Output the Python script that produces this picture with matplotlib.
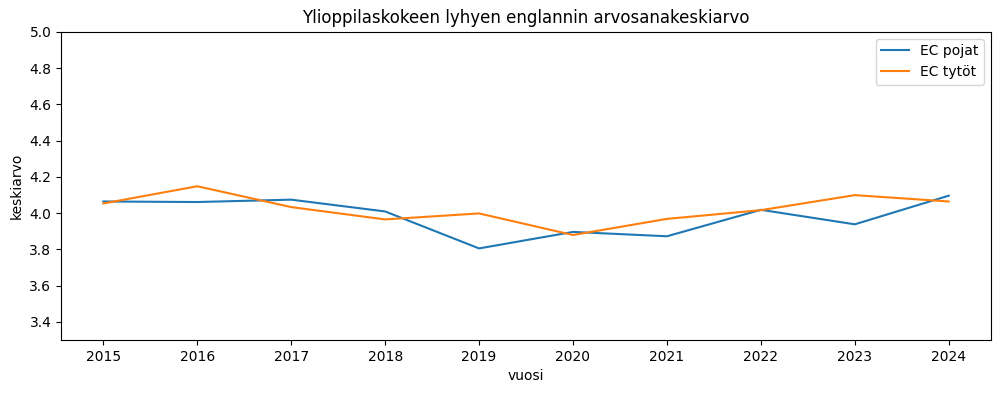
import matplotlib
matplotlib.use("Agg")
import matplotlib.pyplot as plt

vuodet = [2015, 2016, 2017, 2018, 2019, 2020, 2021, 2022, 2023, 2024]
ec_pojat = [4.064, 4.061, 4.074, 4.009, 3.805, 3.896, 3.872, 4.018, 3.938, 4.096]
ec_tytot = [4.053, 4.148, 4.033, 3.965, 3.998, 3.879, 3.968, 4.016, 4.099, 4.064]

fig, ax = plt.subplots(figsize=(10.01, 3.93), dpi=100)
ax.plot(vuodet, ec_pojat, label="EC pojat")
ax.plot(vuodet, ec_tytot, label="EC tytöt")

ax.set_title("Ylioppilaskokeen lyhyen englannin arvosanakeskiarvo")
ax.set_xlabel("vuosi")
ax.set_ylabel("keskiarvo")
ax.set_xticks(vuodet)
ax.set_ylim(3.3, 5.0)
ax.legend(loc="upper right")

fig.subplots_adjust(left=0.061, right=0.990, top=0.919, bottom=0.135)
fig.savefig("out.png", dpi=100)
